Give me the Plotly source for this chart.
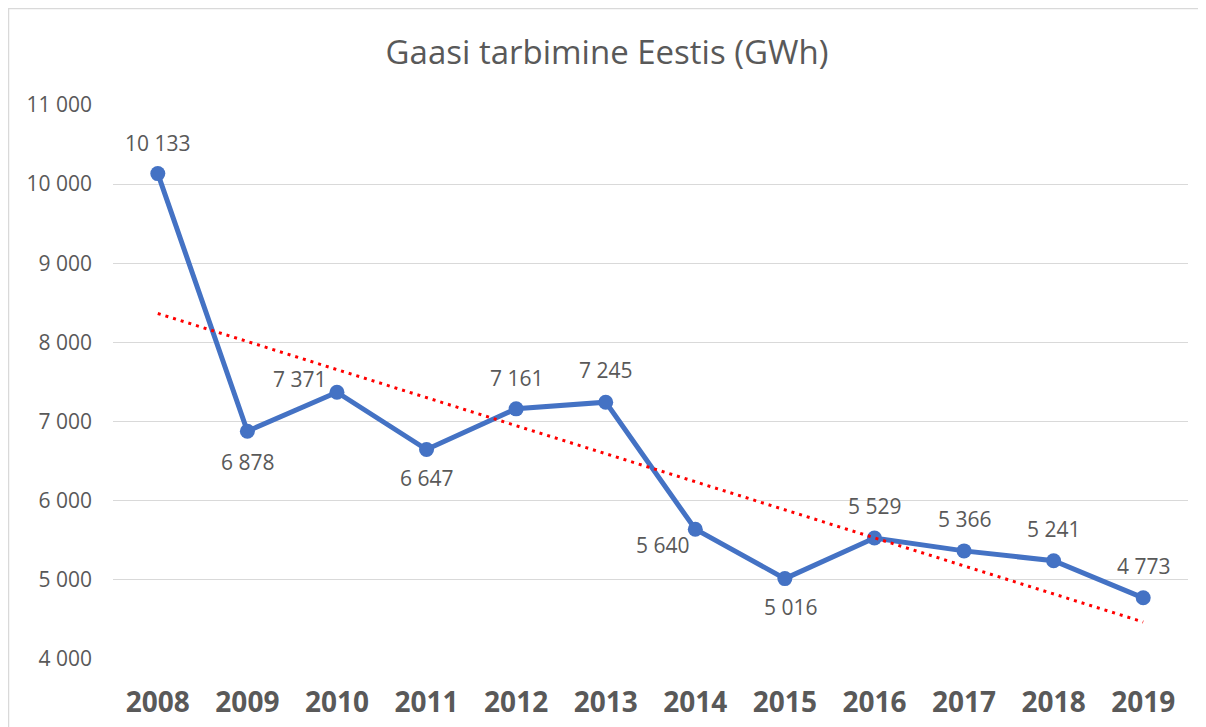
import numpy as np
import plotly.graph_objects as go

years = ["2008", "2009", "2010", "2011", "2012", "2013", "2014", "2015", "2016", "2017", "2018", "2019"]
consumption = [10133, 6878, 7371, 6647, 7161, 7245, 5640, 5016, 5529, 5366, 5241, 4773]
y_ticks = [4000, 5000, 6000, 7000, 8000, 9000, 10000, 11000]
y_tick_labels = ["4 000", "5 000", "6 000", "7 000", "8 000", "9 000", "10 000", "11 000"]
title_text = "Gaasi tarbimine Eestis (GWh)"

# label placement offsets (px) per point
label_dx = [0, 0, -37, 0, 0, 0, -33, 6, 0, 0, 0, 0]
label_dy = [31, -31, 13, -28, 31, 32, -16, -28, 32, 32, 32, 32]

def fmt(v):
    return f"{v:,}".replace(",", " ")

# linear trendline (least squares, as in the spreadsheet)
idx = np.arange(len(consumption))
slope, intercept = np.polyfit(idx, consumption, 1)
trend = slope * idx + intercept

GREY = "#595959"
FONT = "Open Sans"

fig = go.Figure()
fig.add_trace(go.Scatter(
    x=years, y=consumption, mode="lines+markers",
    line=dict(color="#4472C4", width=5),
    marker=dict(color="#4472C4", size=15),
    showlegend=False, hoverinfo="x+y",
))
fig.add_trace(go.Scatter(
    x=years, y=trend, mode="lines",
    line=dict(color="#FF0000", width=3, dash="3px,5px"),
    showlegend=False, hoverinfo="skip",
))

annotations = []
for i, (v, dx, dy) in enumerate(zip(consumption, label_dx, label_dy)):
    annotations.append(dict(
        x=i, y=v, xref="x", yref="y", text=fmt(v), showarrow=False,
        xshift=dx, yshift=dy, font=dict(family=FONT, size=21, color=GREY),
        xanchor="center", yanchor="middle",
    ))

# page body has an 8px default margin; size the figure to fit the window
W, H = 1198, 719
L, R, T, B = 105, 18, 97, 68
pw, ph = W - L - R, H - T - B

def px_x(px):
    return (px - L) / pw

def px_y(py):
    return (T + ph - py) / ph

fig.update_layout(
    width=W, height=H,
    margin=dict(l=L, r=R, t=T, b=B, autoexpand=False),
    paper_bgcolor="white", plot_bgcolor="white",
    title=dict(text=title_text, x=0.5, xref="container", xanchor="center",
               y=1 - 44 / H, yref="container", yanchor="middle",
               font=dict(family=FONT, size=33, color=GREY)),
    annotations=annotations,
    shapes=[dict(type="rect", xref="paper", yref="paper",
                 x0=px_x(0.5), x1=px_x(W - 0.5),
                 y0=px_y(H + 20), y1=px_y(0.5),
                 line=dict(color="#D9D9D9", width=1.5), layer="below")],
    xaxis=dict(type="category", showgrid=False, showline=False, zeroline=False,
               range=[-0.5, len(years) - 0.5],
               tickfont=dict(family=FONT, size=28, color=GREY, weight="bold"),
               ticklabelstandoff=24),
    yaxis=dict(range=[4000, 11000], tickvals=y_ticks, ticktext=y_tick_labels,
               showgrid=True, gridcolor="#D9D9D9", gridwidth=1.3,
               zeroline=False, showline=False,
               tickfont=dict(family=FONT, size=21, color=GREY),
               ticklabelstandoff=20),
)

fig.write_html("out.html")
